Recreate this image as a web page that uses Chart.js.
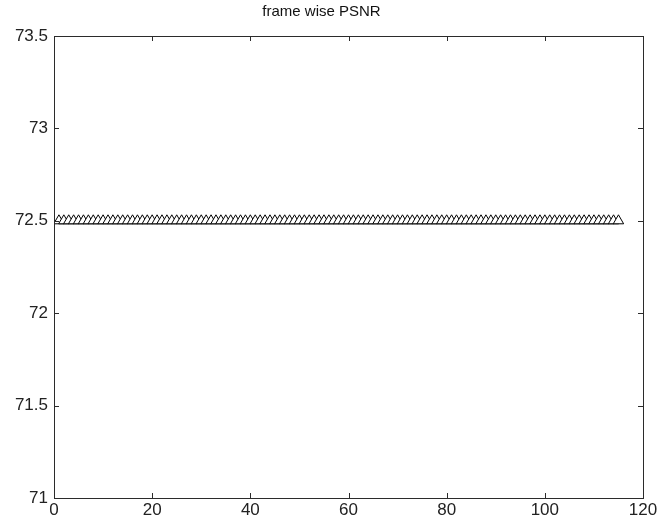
<!DOCTYPE html>
<html>
<head>
<meta charset="utf-8">
<script src="https://cdn.jsdelivr.net/npm/chart.js@4"></script>
<style>
  html, body { margin: 0; padding: 0; background: #fff; }
  #wrap { width: 670px; height: 524px; }
</style>
</head>
<body>
<div id="wrap"><canvas id="myChart" width="670" height="524"></canvas></div>
<script>
// frame indices and PSNR per frame
const frames = []
for (let i = 1; i <= 115; i++) frames.push(i)
const psnr = frames.map(() => 72.5)

const xTicks = [0, 20, 40, 60, 80, 100, 120]
const yTicks = [71, 71.5, 72, 72.5, 73, 73.5]
const titleText = 'frame wise PSNR'

const axisColor = '#2b2b2b'

// matlab-style box with inward ticks
const boxTicks = {
    id: 'boxTicks',
    afterDraw(chart) {
        const { ctx, chartArea: a, scales } = chart
        ctx.save()
        ctx.strokeStyle = axisColor
        ctx.lineWidth = 1
        ctx.strokeRect(a.left + 0.5, a.top + 0.5, a.right - a.left, a.bottom - a.top)
        const len = 5
        ctx.beginPath()
        xTicks.forEach(v => {
            const x = Math.round(scales.x.getPixelForValue(v)) + 0.5
            ctx.moveTo(x, a.bottom); ctx.lineTo(x, a.bottom - len)
            ctx.moveTo(x, a.top); ctx.lineTo(x, a.top + len)
        })
        yTicks.forEach(v => {
            const y = Math.round(scales.y.getPixelForValue(v)) + 0.5
            ctx.moveTo(a.left, y); ctx.lineTo(a.left + len, y)
            ctx.moveTo(a.right, y); ctx.lineTo(a.right - len, y)
        })
        ctx.stroke()
        ctx.restore()
    }
}

new Chart(document.getElementById('myChart'), {
    type: 'scatter',
    data: {
        datasets: [{
            data: frames.map((f, i) => ({ x: f, y: psnr[i] })),
            pointStyle: 'triangle',
            pointRadius: 6,
            pointBackgroundColor: '#ffffff',
            pointBorderColor: '#000000',
            pointBorderWidth: 1,
            showLine: false
        }]
    },
    options: {
        responsive: false,
        animation: false,
        layout: { padding: { left: 0, right: 27, top: 0, bottom: 0 } },
        plugins: {
            legend: { display: false },
            tooltip: { enabled: false },
            title: {
                display: true,
                text: titleText,
                color: '#111',
                font: { family: 'Liberation Sans', size: 15, weight: 'normal', lineHeight: 1.2 },
                padding: { top: 3, bottom: 15 }
            }
        },
        scales: {
            x: {
                type: 'linear',
                min: 0,
                max: 120,
                afterBuildTicks: s => { s.ticks = xTicks.map(v => ({ value: v })) },
                afterFit: s => { s.height = 26 },
                grid: { display: false, drawTicks: false },
                border: { display: false },
                ticks: {
                    color: '#222',
                    padding: 2,
                    maxRotation: 0,
                    font: { family: 'Liberation Sans', size: 17 }
                }
            },
            y: {
                min: 71,
                max: 73.5,
                afterBuildTicks: s => { s.ticks = yTicks.map(v => ({ value: v })) },
                afterFit: s => { s.width = 54 },
                grid: { display: false, drawTicks: false },
                border: { display: false },
                ticks: {
                    color: '#222',
                    padding: 6,
                    callback: v => String(v),
                    font: { family: 'Liberation Sans', size: 17 }
                }
            }
        }
    },
    plugins: [boxTicks]
})
</script>
</body>
</html>
